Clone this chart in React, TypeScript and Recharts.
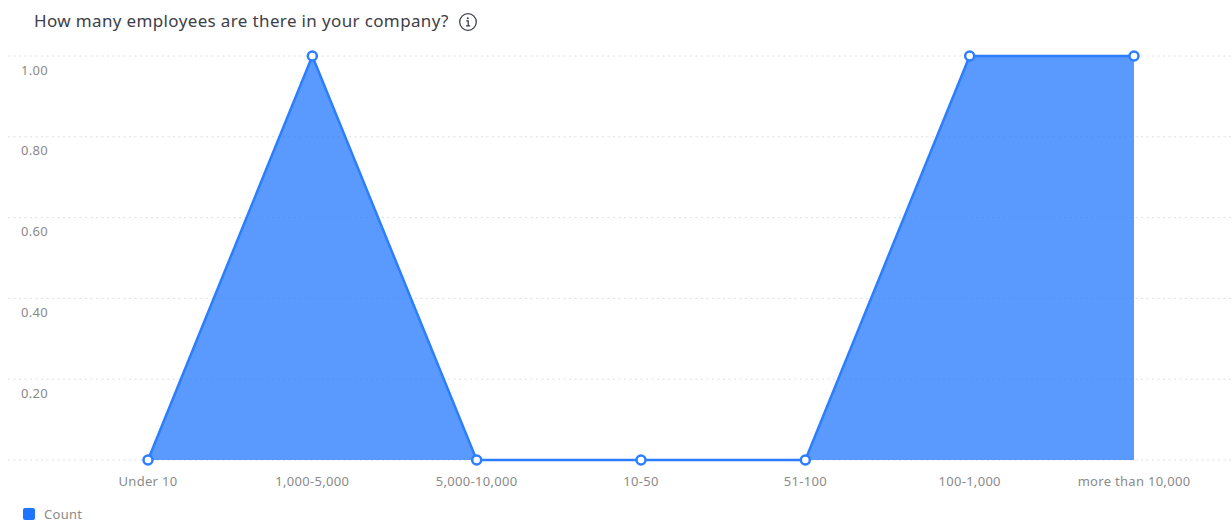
import { AreaChart, Area, XAxis, YAxis, CartesianGrid, Legend } from 'recharts';

const categories = ['Under 10', '1,000-5,000', '5,000-10,000', '10-50', '51-100', '100-1,000', 'more than 10,000'];
const counts = [0, 1, 0, 0, 0, 1, 1];
const yTicks = [0, 0.2, 0.4, 0.6, 0.8, 1];

const FONT = '"Noto Sans", sans-serif';
const COLORS = {
  line: '#2b7eff',
  fill: '#2b7eff',
  legend: '#1f75fe',
  grid: '#dedede',
  tick: '#8a8a8a',
  title: '#3d4048',
};

const chartData = categories.map((name, i) => ({ name, Count: counts[i] }));

// y labels sit just under their grid line, and the zero label is left out
function YTick({ y, payload }: any) {
  if (payload.value === 0) return null;
  return (
    <text x={21} y={y + 18.5} fontSize={13} letterSpacing={0.3} fontFamily={FONT} fill={COLORS.tick}>
      {payload.value.toFixed(2)}
    </text>
  );
}

function CountLegend() {
  return (
    <div style={{ display: 'flex', alignItems: 'center', height: 17, fontFamily: FONT, fontSize: 13, letterSpacing: 0.3, color: COLORS.tick }}>
      <span style={{ width: 12, height: 12, borderRadius: 2, background: COLORS.legend, marginRight: 9 }} />
      Count
    </div>
  );
}

function InfoIcon() {
  return (
    <svg width={20} height={20} viewBox="0 0 20 20" style={{ position: 'absolute', left: 458, top: 12 }}>
      <circle cx={10} cy={10} r={8.3} fill="none" stroke={COLORS.title} strokeWidth={1.3} />
      <path d="M8.2 8.8h2v5 M8 13.8h4.2" fill="none" stroke={COLORS.title} strokeWidth={1.3} />
      <circle cx={9.8} cy={6.2} r={1} fill={COLORS.title} />
    </svg>
  );
}

export default function App() {
  return (
    <div style={{ position: 'absolute', left: 0, top: 0, width: 1232, height: 523, background: '#fff', overflow: 'hidden' }}>
      <div style={{ position: 'absolute', left: 34, top: 9, fontFamily: FONT, fontSize: 17, letterSpacing: 0.36, lineHeight: '24px', color: COLORS.title, whiteSpace: 'nowrap' }}>
        How many employees are there in your company?
      </div>
      <InfoIcon />
      <AreaChart
        width={1232}
        height={523}
        data={chartData}
        margin={{ top: 56, right: 0, bottom: 0, left: 7 }}
      >
        <CartesianGrid vertical={false} stroke={COLORS.grid} strokeDasharray="2 3.5" />
        <XAxis
          dataKey="name"
          interval={0}
          padding={{ left: 140, right: 98 }}
          axisLine={false}
          tickLine={false}
          height={46}
          tickMargin={11}
          tick={{ fontSize: 13, letterSpacing: 0.3, fontFamily: FONT, fill: COLORS.tick }}
        />
        <YAxis
          width={1}
          domain={[0, 1]}
          ticks={yTicks}
          axisLine={false}
          tickLine={false}
          tick={YTick}
        />
        <Legend
          content={CountLegend}
          layout="horizontal"
          verticalAlign="bottom"
          align="left"
          wrapperStyle={{ position: 'absolute', left: 23, top: 505, width: 200, height: 17, bottom: 'auto' }}
        />
        <Area
          type="linear"
          dataKey="Count"
          stroke={COLORS.line}
          strokeWidth={2.5}
          fill={COLORS.fill}
          fillOpacity={0.78}
          dot={{ r: 4.5, fill: '#fff', stroke: COLORS.line, strokeWidth: 2.5, fillOpacity: 1 }}
          isAnimationActive={false}
        />
      </AreaChart>
    </div>
  );
}
